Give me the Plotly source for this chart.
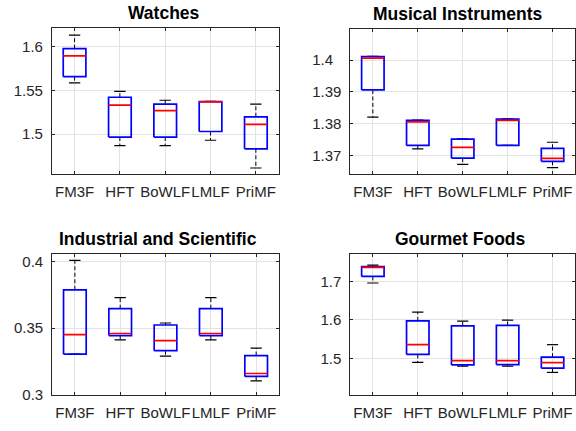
import plotly.graph_objects as go

METHODS = ["FM3F", "HFT", "BoWLF", "LMLF", "PriMF"]
TITLES = ["Watches", "Musical Instruments", "Industrial and Scientific", "Gourmet Foods"]

# Watches
W_LO  = [1.5586, 1.4869, 1.4869, 1.4930, 1.4612]
W_Q1  = [1.5658, 1.4966, 1.4966, 1.5030, 1.4832]
W_MED = [1.5896, 1.5332, 1.5268, 1.5370, 1.5112]
W_Q3  = [1.5978, 1.5422, 1.5343, 1.5373, 1.5198]
W_HI  = [1.6134, 1.5489, 1.5388, 1.5375, 1.5343]

# Musical Instruments
M_LO  = [1.3820, 1.3720, 1.3671, 1.3731, 1.3661]
M_Q1  = [1.3906, 1.3731, 1.3691, 1.3731, 1.3681]
M_MED = [1.4006, 1.3805, 1.3725, 1.3810, 1.3690]
M_Q3  = [1.4011, 1.3810, 1.3751, 1.3814, 1.3722]
M_HI  = [1.4012, 1.3811, 1.3752, 1.3815, 1.3741]

# Industrial and Scientific
I_LO  = [0.3304, 0.3412, 0.3290, 0.3412, 0.3103]
I_Q1  = [0.3304, 0.3444, 0.3331, 0.3444, 0.3137]
I_MED = [0.3451, 0.3460, 0.3407, 0.3460, 0.3159]
I_Q3  = [0.3789, 0.3647, 0.3524, 0.3647, 0.3294]
I_HI  = [0.4010, 0.3730, 0.3539, 0.3730, 0.3350]

# Gourmet Foods
G_LO  = [1.6957, 1.4898, 1.4797, 1.4797, 1.4636]
G_Q1  = [1.7127, 1.5102, 1.4830, 1.4839, 1.4746]
G_MED = [1.7363, 1.5356, 1.4942, 1.4940, 1.4890]
G_Q3  = [1.7381, 1.5975, 1.5846, 1.5856, 1.5034]
G_HI  = [1.7422, 1.6203, 1.5966, 1.5992, 1.5356]

# y tick values / labels
W_TICKS = [1.5, 1.55, 1.6]
W_TICKTEXT = ["1.5", "1.55", "1.6"]
M_TICKS = [1.37, 1.38, 1.39, 1.40]
M_TICKTEXT = ["1.37", "1.38", "1.39", "1.4\u2007"]
I_TICKS = [0.3, 0.35, 0.4]
I_TICKTEXT = ["0.3", "0.35", "0.4"]
G_TICKS = [1.5, 1.6, 1.7]
G_TICKTEXT = ["1.5", "1.6", "1.7"]

panels = [
    (W_LO, W_Q1, W_MED, W_Q3, W_HI, W_TICKS, W_TICKTEXT, [1.454, 1.621]),
    (M_LO, M_Q1, M_MED, M_Q3, M_HI, M_TICKS, M_TICKTEXT, [1.364, 1.4099]),
    (I_LO, I_Q1, I_MED, I_Q3, I_HI, I_TICKS, I_TICKTEXT, [0.3, 0.4059]),
    (G_LO, G_Q1, G_MED, G_Q3, G_HI, G_TICKS, G_TICKTEXT, [1.4052, 1.7712]),
]

W, H = 576, 431
px_x = [(52, 279), (351, 576.5), (52.3, 279.3), (351, 576.5)]
px_y = [(28, 177), (28.3, 177), (258.3, 402), (258.3, 402.3)]
title_cx = [164.7, 458, 158.7, 461.3]

FONT = "Liberation Sans, Arial, Helvetica, sans-serif"
FRAME = "#262626"
GRID = "#e3e3e3"
BW = 0.25   # half box width
CW = 0.125  # half cap width

fig = go.Figure()
layout = dict(
    width=W, height=H, autosize=False,
    margin=dict(l=0, r=0, t=0, b=0),
    paper_bgcolor="white", plot_bgcolor="white",
    showlegend=False,
    annotations=[],
)

for k, (lo, q1, med, q3, hi, tv, tt, yr) in enumerate(panels):
    xa = "x" if k == 0 else f"x{k+1}"
    ya = "y" if k == 0 else f"y{k+1}"
    xkey = "xaxis" if k == 0 else f"xaxis{k+1}"
    ykey = "yaxis" if k == 0 else f"yaxis{k+1}"
    pos = list(range(1, len(METHODS) + 1))

    wx, wy, cx, cy, bx, by, mx, my = [], [], [], [], [], [], [], []
    for i, p in enumerate(pos):
        wx += [p, p, None, p, p, None]
        wy += [q3[i], hi[i], None, q1[i], lo[i], None]
        cx += [p - CW, p + CW, None, p - CW, p + CW, None]
        cy += [hi[i], hi[i], None, lo[i], lo[i], None]
        bx += [p - BW, p + BW, p + BW, p - BW, p - BW, None]
        by += [q1[i], q1[i], q3[i], q3[i], q1[i], None]
        mx += [p - BW, p + BW, None]
        my += [med[i], med[i], None]

    fig.add_trace(go.Scatter(x=wx, y=wy, mode="lines", xaxis=xa, yaxis=ya,
                             line=dict(color="black", width=1, dash="4px,2.5px"),
                             hoverinfo="skip"))
    fig.add_trace(go.Scatter(x=cx, y=cy, mode="lines", xaxis=xa, yaxis=ya,
                             line=dict(color="black", width=1.2), hoverinfo="skip"))
    fig.add_trace(go.Scatter(x=bx, y=by, mode="lines", xaxis=xa, yaxis=ya,
                             line=dict(color="#0000ff", width=1.7), hoverinfo="skip"))
    fig.add_trace(go.Scatter(x=mx, y=my, mode="lines", xaxis=xa, yaxis=ya,
                             line=dict(color="#ff0000", width=1.7), hoverinfo="skip"))

    x0, x1 = px_x[k]
    y0, y1 = px_y[k]
    common = dict(showline=True, mirror="allticks", linecolor=FRAME, linewidth=1,
                  ticks="inside", ticklen=3, tickcolor=FRAME, showgrid=True,
                  gridcolor=GRID, gridwidth=1, zeroline=False,
                  tickfont=dict(family=FONT, size=15, color=FRAME))
    layout[xkey] = dict(common, domain=[x0 / W, min(x1 / W, 1.0)], range=[0.5, 5.5],
                        tickvals=pos, ticktext=METHODS, anchor=ya, tickangle=0,
                        ticklabelstandoff=4)
    layout[ykey] = dict(common, domain=[1 - y1 / H, 1 - y0 / H], range=yr,
                        tickvals=tv, ticktext=tt, anchor=xa,
                        ticklabelstandoff=5)
    layout["annotations"].append(dict(
        text=f"<b>{TITLES[k]}</b>", xref="paper", yref="paper",
        x=title_cx[k] / W, y=1 - y0 / H, xanchor="center", yanchor="bottom",
        yshift=3, showarrow=False,
        font=dict(family=FONT, size=17.5, color="black")))

fig.update_layout(**layout)
fig.write_html("out.html",
               config={"displayModeBar": False, "staticPlot": True},
               post_script="document.body.style.margin='0px';"
                           "document.body.style.overflow='hidden';")
